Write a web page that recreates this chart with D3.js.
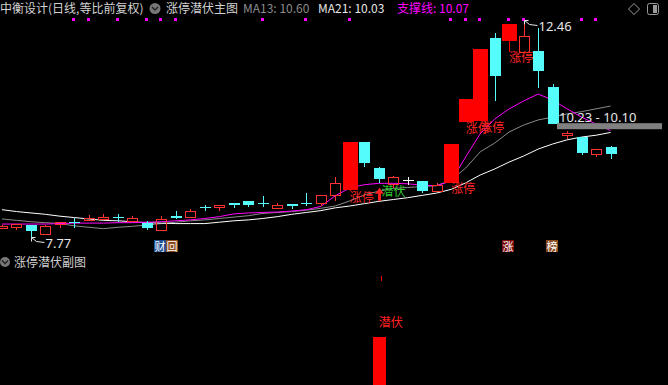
<!DOCTYPE html>
<html>
<head>
<meta charset="utf-8">
<script src="https://cdn.jsdelivr.net/npm/d3@7"></script>
<style>
  html, body { margin: 0; padding: 0; background: #000; }
  svg { display: block; }
  text { font-family: "Noto Sans CJK SC", "Noto Sans", sans-serif; }
</style>
</head>
<body>
<div id="chart"></div>
<script>
// daily candles, oldest first
const opens  = [7.96, 7.99, 8.03, 7.84, 8.05, 8.10, 8.14, 8.16, 8.21, 8.12, 8.07, 7.92, 8.22, 8.20, 8.42, 8.42, 8.51, 8.55, 8.51, 8.40, 8.48, 8.51,
                8.51, 8.68, 8.78, 9.82, 9.26, 8.92, 9.00, 8.98, 8.76, 8.94, 10.25, 10.27, 12.07, 12.01, 11.77, 11.79, 11.01, 9.97, 9.93, 9.56, 9.72];
const highs  = [8.02, 8.05, 8.03, 8.02, 8.10, 8.18, 8.25, 8.27, 8.27, 8.22, 8.12, 8.22, 8.33, 8.38, 8.46, 8.46, 8.51, 8.55, 8.66, 8.51, 8.49, 8.72,
                8.68, 9.07, 9.83, 9.83, 9.28, 9.09, 9.07, 8.98, 8.94, 9.78, 10.76, 11.84, 12.18, 12.38, 12.46, 12.29, 11.08, 10.06, 9.93, 9.67, 9.74];
const lows   = [7.95, 7.92, 7.77, 7.83, 7.97, 7.97, 8.14, 8.16, 8.09, 8.12, 7.92, 7.92, 8.16, 8.20, 8.33, 8.33, 8.40, 8.42, 8.42, 8.40, 8.38, 8.44,
                8.44, 8.55, 8.76, 9.28, 8.94, 8.83, 8.89, 8.72, 8.74, 8.94, 10.25, 10.27, 10.71, 11.77, 11.77, 10.99, 10.21, 9.89, 9.54, 9.50, 9.46];
const closes = [8.01, 8.05, 7.90, 8.01, 8.09, 8.09, 8.18, 8.20, 8.20, 8.18, 7.97, 8.16, 8.18, 8.33, 8.41, 8.46, 8.46, 8.46, 8.50, 8.46, 8.44, 8.50,
                8.68, 8.94, 9.83, 9.37, 9.02, 9.07, 9.00, 8.76, 8.89, 9.78, 10.76, 11.84, 11.25, 12.38, 12.11, 11.36, 10.21, 10.02, 9.59, 9.67, 9.56];

// indicator lines
const ma13 = [8.16, 8.13, 8.10, 8.08, 8.06, 8.01, 7.98, 7.95, 7.98, 8.00, 8.03, 8.06, 8.09, 8.12, 8.14, 8.17, 8.20, 8.23, 8.28, 8.30, 8.32, 8.35,
              8.39, 8.44, 8.55, 8.68, 8.76, 8.82, 8.84, 8.86, 8.88, 9.00, 9.26, 9.61, 9.80, 10.04, 10.19, 10.30, 10.36, 10.43, 10.48, 10.54, 10.60];
const ma21 = [8.36, 8.32, 8.29, 8.26, 8.22, 8.19, 8.16, 8.13, 8.12, 8.10, 8.08, 8.07, 8.06, 8.06, 8.06, 8.09, 8.12, 8.14, 8.17, 8.21, 8.26, 8.30,
              8.34, 8.40, 8.44, 8.49, 8.54, 8.58, 8.62, 8.67, 8.72, 8.80, 8.94, 9.11, 9.24, 9.39, 9.52, 9.67, 9.78, 9.87, 9.93, 9.97, 10.03];
const support = [8.05, 8.05, 8.05, 8.05, 8.06, 8.07, 8.07, 8.07, 8.08, 8.08, 8.09, 8.10, 8.12, 8.14, 8.17, 8.21, 8.27, 8.29, 8.30, 8.31, 8.33, 8.36,
                 8.43, 8.66, 8.83, 8.90, 8.93, 8.93, 8.92, 8.89, 8.88, 8.98, 9.50, 10.00, 10.32, 10.54, 10.71, 10.86, 10.73, 10.54, 10.36, 10.21, 10.07];

const dotDays = [5, 6, 8, 10, 11, 12, 18, 21, 24, 31, 32, 33, 35, 36, 40, 41];
const signalDays = [26];
const subBars = [0, 0, 0, 0, 0, 0, 0, 0, 0, 0, 0, 0, 0, 0, 0, 0, 0, 0, 0, 0, 0, 0,
                 0, 0, 0, 0, 1, 0, 0, 0, 0, 0, 0, 0, 0, 0, 0, 0, 0, 0, 0, 0, 0];
const events = [
  { day: 11, text: "财", kind: "fin" },
  { day: 11, text: "回", kind: "back" },
  { day: 35, text: "涨", kind: "up" },
  { day: 38, text: "榜", kind: "list" }
];
const zone = [10.23, 10.10];

const width = 668, height = 385;
const n = closes.length;

const RED = "#ff3232", LIMIT = "#ff0000", CYAN = "#54fcfc";

const svg = d3.select("#chart").append("svg")
  .attr("width", width)
  .attr("height", height)
  .style("background", "#000");

const x = d3.scaleLinear().domain([0, n - 1]).range([2, 610.6]);
const y = d3.scaleLinear().domain([7.77, 12.46]).range([237, 20]);
const ySub = d3.scaleLinear().domain([0, 1]).range([385, 337]);

const kind = function(i) {
  if (i > 0 && closes[i] >= closes[i - 1] * 1.095) return "limit";
  if (closes[i] > opens[i]) return "up";
  if (closes[i] < opens[i]) return "down";
  return "flat";
};

//HEADER

const header = svg.append("g").style("font-size", "12px");
header.append("text").attr("x", 0).attr("y", 13).attr("fill", "#d2d2d2").text("中衡设计(日线,等比前复权)");
header.append("circle").attr("cx", 155).attr("cy", 8.5).attr("r", 5.5).attr("fill", "#777");
header.append("path").attr("d", "M152,7 L155,10 L158,7").attr("fill", "none").attr("stroke", "#222").attr("stroke-width", 1.4);
header.append("text").attr("x", 166).attr("y", 13).attr("fill", "#d2d2d2").text("涨停潜伏主图");
header.append("text").attr("x", 243).attr("y", 13).attr("fill", "#8c8c8c").text("MA13: " + ma13[n - 1].toFixed(2));
header.append("text").attr("x", 318).attr("y", 13).attr("fill", "#e6e6e6").text("MA21: " + ma21[n - 1].toFixed(2));
header.append("text").attr("x", 397).attr("y", 13).attr("fill", "#ff00ff").text("支撑线: " + support[n - 1].toFixed(2));

// window icons top right
svg.append("path").attr("d", "M634,3.5 L639.5,9 L634,14.5 L628.5,9 Z")
  .attr("fill", "none").attr("stroke", "#9a9a9a");
svg.append("rect").attr("x", 647.5).attr("y", 3.5).attr("width", 11).attr("height", 11).attr("rx", 2)
  .attr("fill", "none").attr("stroke", "#9a9a9a");
svg.append("rect").attr("x", 653).attr("y", 5).attr("width", 4).attr("height", 8).attr("fill", "#9a9a9a");

// magenta dots
svg.append("g").attr("shape-rendering", "crispEdges")
  .selectAll("rect").data(dotDays).enter().append("rect")
  .attr("x", d => Math.round(x(d)) - 2)
  .attr("y", 18)
  .attr("width", 3).attr("height", 3)
  .attr("fill", "#ff00ff");

//LINES

const line = d3.line().x((d, i) => x(i)).y(d => y(d));
const lines = svg.append("g").attr("fill", "none").attr("stroke-width", 1);
lines.append("path").attr("d", line(ma13)).attr("stroke", "#8a8a8a");
lines.append("path").attr("d", line(ma21)).attr("stroke", "#ffffff");
lines.append("path").attr("d", line(support)).attr("stroke", "#ff00ff");

//CANDLES

const candles = svg.append("g").attr("shape-rendering", "crispEdges");

d3.range(n).forEach(function(i) {
  const k = kind(i);
  const cx = Math.round(x(i));
  const top = Math.round(y(Math.max(opens[i], closes[i])));
  const bot = Math.round(y(Math.min(opens[i], closes[i])));
  const hi = Math.round(y(highs[i]));
  const lo = Math.round(y(lows[i]));
  const g = candles.append("g");

  if (k === "up") {
    if (hi < top) g.append("line").attr("x1", cx + 0.5).attr("x2", cx + 0.5).attr("y1", hi).attr("y2", top).attr("stroke", RED);
    if (lo > bot) g.append("line").attr("x1", cx + 0.5).attr("x2", cx + 0.5).attr("y1", bot).attr("y2", lo).attr("stroke", RED);
    g.append("rect")
      .attr("x", cx - 4.5).attr("y", top + 0.5)
      .attr("width", 10).attr("height", Math.max(1, bot - top))
      .attr("fill", "none").attr("stroke", RED);
  } else if (k === "down") {
    g.append("line").attr("x1", cx + 0.5).attr("x2", cx + 0.5).attr("y1", hi).attr("y2", lo).attr("stroke", CYAN);
    g.append("rect")
      .attr("x", cx - 5).attr("y", top)
      .attr("width", 11).attr("height", Math.max(1, bot - top))
      .attr("fill", CYAN);
  } else if (k === "flat") {
    g.append("line").attr("x1", cx + 0.5).attr("x2", cx + 0.5).attr("y1", hi).attr("y2", lo).attr("stroke", "#fff");
    g.append("line").attr("x1", cx - 5).attr("x2", cx + 6).attr("y1", top + 0.5).attr("y2", top + 0.5).attr("stroke", "#fff");
  } else {
    g.append("line").attr("x1", cx + 0.5).attr("x2", cx + 0.5).attr("y1", hi).attr("y2", lo).attr("stroke", LIMIT);
    g.append("rect")
      .attr("x", cx - 7).attr("y", top)
      .attr("width", 15).attr("height", Math.max(1, bot - top))
      .attr("fill", LIMIT);
  }
});

// limit-up labels
svg.append("g").selectAll("text")
  .data(d3.range(n).filter(i => kind(i) === "limit"))
  .enter().append("text")
  .attr("x", d => x(d))
  .attr("y", d => y(lows[d]) + 5)
  .attr("dominant-baseline", "central")
  .attr("fill", "#ff2424")
  .style("font-size", "12px")
  .text("涨停");

// signal arrows in main pane
signalDays.forEach(function(d) {
  const cx = Math.round(x(d)) + 0.5;
  const t = y(lows[d]) + 5;
  svg.append("path")
    .attr("d", "M" + cx + "," + t + " L" + (cx + 4.5) + "," + (t + 6) + " L" + (cx + 1.5) + "," + (t + 6) +
               " L" + (cx + 1.5) + "," + (t + 13) + " L" + (cx - 1.5) + "," + (t + 13) + " L" + (cx - 1.5) + "," + (t + 6) +
               " L" + (cx - 4.5) + "," + (t + 6) + " Z")
    .attr("fill", "#ff2020");
  svg.append("text")
    .attr("x", cx + 2)
    .attr("y", t + 3)
    .attr("dominant-baseline", "central")
    .attr("fill", "#2ecc2e")
    .style("font-size", "12px")
    .text("潜伏");
});

//HIGH / LOW MARKERS

const hiIdx = d3.maxIndex(highs), loIdx = d3.minIndex(lows);

function marker(i, v) {
  const tx = Math.round(x(i)) + 0.5, ty = Math.round(y(v)) + 0.5;
  svg.append("path")
    .attr("d", "M" + (tx + 4) + "," + ty + " L" + tx + "," + ty + " L" + tx + "," + (ty + 4) +
               " M" + tx + "," + ty + " L" + (tx + 5) + "," + (ty + 4) + " L" + (tx + 13) + "," + (ty + 5))
    .attr("fill", "none").attr("stroke", "#e6e6e6");
  svg.append("text")
    .attr("x", tx + 14)
    .attr("y", ty + 10)
    .attr("fill", "#e6e6e6")
    .style("font-family", "'Noto Sans', sans-serif")
    .style("font-size", "13px")
    .text(v.toFixed(2));
}
marker(hiIdx, highs[hiIdx]);
marker(loIdx, lows[loIdx]);

//ZONE

svg.append("rect")
  .attr("x", 557).attr("width", 105)
  .attr("y", y(zone[0])).attr("height", y(zone[1]) - y(zone[0]))
  .attr("fill", "#808080");
svg.append("text")
  .attr("x", 559).attr("y", y(zone[0]) - 1)
  .attr("fill", "#e6e6e6")
  .style("font-family", "'Noto Sans', sans-serif")
  .style("font-size", "13px")
  .text(zone[0].toFixed(2) + " - " + zone[1].toFixed(2));

//EVENT BOXES

const eventColor = { fin: "#1f4e96", back: "#8a4a1c", up: "#7a0a0a", list: "#8a4a1c" };
const seen = {};
events.forEach(function(e) {
  const slot = seen[e.day] || 0;
  seen[e.day] = slot + 1;
  const bx = Math.round(x(e.day)) - 7 + slot * 12;
  svg.append("rect").attr("x", bx).attr("y", 240).attr("width", 12).attr("height", 12)
    .attr("fill", eventColor[e.kind]);
  svg.append("text").attr("x", bx + 6).attr("y", 250.5)
    .attr("text-anchor", "middle").attr("fill", "#fff")
    .style("font-size", "11px")
    .text(e.text);
});

//SUB PANE

svg.append("circle").attr("cx", 5).attr("cy", 262).attr("r", 5).attr("fill", "#777");
svg.append("path").attr("d", "M2,260.5 L5,263.5 L8,260.5").attr("fill", "none").attr("stroke", "#222").attr("stroke-width", 1.4);
svg.append("text").attr("x", 14).attr("y", 267).attr("fill", "#cfcfcf").style("font-size", "12px").text("涨停潜伏副图");

const sub = svg.append("g").attr("shape-rendering", "crispEdges");
sub.selectAll("rect")
  .data(d3.range(n).filter(i => subBars[i] > 0))
  .enter().append("rect")
  .attr("x", d => Math.round(x(d)) - 6)
  .attr("width", 13)
  .attr("y", d => ySub(subBars[d]))
  .attr("height", d => ySub(0) - ySub(subBars[d]))
  .attr("fill", "#ff0000");

d3.range(n).filter(i => subBars[i] > 0).forEach(function(d) {
  sub.append("line")
    .attr("x1", Math.round(x(d)) + 2.5).attr("x2", Math.round(x(d)) + 2.5)
    .attr("y1", ySub(2.27)).attr("y2", ySub(2.17))
    .attr("stroke", "#ff0000");
  svg.append("text")
    .attr("x", x(d))
    .attr("y", ySub(subBars[d]) - 16)
    .attr("dominant-baseline", "central")
    .attr("fill", "#ff2020")
    .style("font-size", "12px")
    .text("潜伏");
});
</script>
</body>
</html>
